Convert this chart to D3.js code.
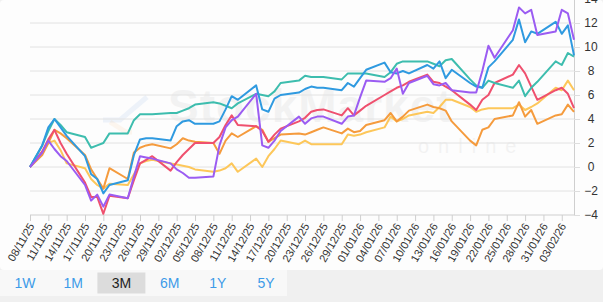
<!DOCTYPE html>
<html>
<head>
<meta charset="utf-8">
<script src="https://cdn.jsdelivr.net/npm/d3@7"></script>
<style>
  html, body { margin: 0; padding: 0; background: #f0f0f0; }
  svg { display: block; font-family: "Liberation Sans", Arial, sans-serif; }
</style>
</head>
<body>
<svg id="chart" width="603" height="302"></svg>
<script>
// trading days (dd/mm/yy)
const dates = [
  "08/11/25","10/11/25","11/11/25","12/11/25","13/11/25","14/11/25",
  "17/11/25","18/11/25","19/11/25","20/11/25","21/11/25",
  "24/11/25","25/11/25","26/11/25","27/11/25","28/11/25",
  "01/12/25","02/12/25","03/12/25","04/12/25","05/12/25",
  "08/12/25","09/12/25","10/12/25","11/12/25","12/12/25",
  "15/12/25","16/12/25","17/12/25","18/12/25","19/12/25",
  "22/12/25","23/12/25","24/12/25","25/12/25","26/12/25",
  "29/12/25","30/12/25","31/12/25","01/01/26","02/01/26",
  "05/01/26","06/01/26","07/01/26","08/01/26","09/01/26",
  "12/01/26","13/01/26","14/01/26","15/01/26","16/01/26",
  "19/01/26","20/01/26","21/01/26","22/01/26","23/01/26",
  "26/01/26","27/01/26","28/01/26","29/01/26","30/01/26",
  "02/02/26","03/02/26","04/02/26","05/02/26"
]

// % change series
const yellow = [0, 1.2, 2.0, 2.2, 1.4, 0.3,
  -0.1, -1.0, -1.5, -1.8, -1.4,
  -1.5, -0.6, 0.3, 0.5, 0.6,
  0.3, 0.2, 0.1, 0, -0.2,
  -0.4, -0.3, -0.1, 0.3, -0.4,
  0.7, 0, 0.9, 1.5, 2.2,
  1.9, 2.2, 1.9, 1.9, 1.9,
  1.9, 2.7, 2.6, 2.7, 2.9,
  3.3, 4.2, 3.8, 4.0, 4.3,
  4.6, 4.5, 5.0, 5.6, 5.6,
  5.0, 4.6, 4.8, 4.9, 4.9,
  4.9, 5.2, 4.75, 5.0, 5.3,
  6.6, 6.4, 7.2, 6.4]
const orange = [0, 1.0, 2.0, 3.1, 2.8, 2.4,
  1.0, -0.2, -1.0, -1.8, -0.1,
  -1.0, 1.2, 1.6, 1.8, 1.9,
  1.55, 1.9, 2.4, 2.2, 2.1,
  2.0, 1.1, 2.2, 2.8, 2.5,
  3.4, 3.1, 2.1, 2.4, 2.7,
  2.8, 2.7, 2.9, 3.1, 3.3,
  2.8, 3.2, 2.9, 3.0, 3.5,
  3.9, 4.5, 3.8, 4.2, 4.7,
  5.2, 5.0, 4.9, 4.7, 3.8,
  2.2, 1.8, 3.1, 3.3, 4.0,
  4.3, 5.4, 4.2, 4.75, 3.6,
  4.3, 4.4, 5.2, 4.6]
const pink = [0, 1.3, 2.3, 3.1, 2.0, 1.1,
  -1.3, -2.5, -2.5, -3.9, -2.4,
  -2.6, -1.1, 0.3, 0.6, 0.9,
  -0.3, 0.4, 1.0, 1.5, 2.0,
  2.0, 2.5, 3.5, 4.3, 3.5,
  3.4, 3.0, 2.1, 2.7, 3.2,
  3.8, 4.1, 4.6, 4.75, 4.8,
  4.3, 4.9, 4.3, 4.7, 5.1,
  6.0, 6.3, 6.6, 6.8, 7.1,
  7.7, 7.1, 7.0, 6.7, 6.4,
  5.2, 4.75, 5.6, 6.0, 7.0,
  7.7, 8.5, 7.8, 6.7, 5.6,
  6.4, 6.6, 6.1, 4.9]
const teal = [0, 1.8, 3.0, 4.0, 3.5, 2.9,
  2.5, 1.6, 1.8, 2.0, 2.8,
  2.8, 3.9, 4.4, 4.4, 4.4,
  4.5, 4.5, 4.7, 4.9, 5.2,
  5.4, 5.3, 5.1, 4.9, 5.3,
  6.1, 6.0, 5.9, 6.3, 7.0,
  7.2, 7.6, 7.5, 7.5, 7.5,
  7.3, 7.8, 7.8, 7.8, 7.8,
  7.5, 7.9, 8.6, 8.8, 8.8,
  8.8, 8.6, 8.4, 8.9, 9.0,
  7.3, 6.8, 6.6, 7.2, 7.0,
  6.6, 7.2, 5.9, 6.6, 7.1,
  8.8, 8.5, 9.5, 9.2]
const blue = [0, 1.8, 3.3, 4.0, 3.3, 2.6,
  0.9, -0.6, -1.0, -2.2, -1.5,
  -1.1, 1.0, 2.3, 2.4, 2.4,
  2.2, 3.4, 3.8, 3.9, 3.6,
  3.6, 3.8, 4.8, 5.9, 5.6,
  6.8, 4.8, 4.6, 5.7, 6.0,
  6.2, 6.5, 6.7, 6.6, 6.6,
  6.4, 7.0, 6.7, 7.4, 8.1,
  8.7, 7.9, 7.8, 8.0, 7.8,
  8.5, 8.2, 8.8, 7.4, 8.1,
  7.0, 6.7, 6.6, 8.3, 8.8,
  10.6, 12.3, 10.4, 11.3, 11.1,
  12.1, 11.1, 11.8, 9.3]
const purple = [0, 1.2, 2.2, 1.5, 0.9, 0.5,
  -1.5, -2.8, -2.3, -3.3, -2.3,
  -2.6, -0.8, 0.9, 0.8, 0.7,
  0.3, -0.2, -0.5, -0.9, -0.9,
  -0.8, 1.8, 3.3, 3.9, 4.2,
  6.1, 1.8, 1.6, 2.2, 3.0,
  4.2, 3.6, 4.05, 4.2, 4.2,
  3.6, 4.2, 4.3, 5.8, 7.2,
  7.1, 7.4, 8.2, 6.1, 7.0,
  7.6, 6.9, 6.8, 7.0, 6.4,
  6.2, 6.2, 8.0, 10.1, 9.1,
  11.4, 13.3, 12.8, 13.1, 11.0,
  11.3, 13.1, 12.8, 10.6]

const seriesList = [
  {values: yellow, color: "#fdc75a"},
  {values: orange, color: "#f59b3d"},
  {values: pink,   color: "#ef506e"},
  {values: teal,   color: "#3dbdae"},
  {values: blue,   color: "#2f9ae0"},
  {values: purple, color: "#9b5cf2"}
]

const xTicks = ["08/11/25","11/11/25","14/11/25","17/11/25","20/11/25","23/11/25",
  "26/11/25","29/11/25","02/12/25","05/12/25","08/12/25","11/12/25","14/12/25",
  "17/12/25","20/12/25","23/12/25","26/12/25","29/12/25","01/01/26","04/01/26",
  "07/01/26","10/01/26","13/01/26","16/01/26","19/01/26","22/01/26","25/01/26",
  "28/01/26","31/01/26","03/02/26"]
const yTicks = [-4, -2, 0, 2, 4, 6, 8, 10, 12, 14]
const ranges = ["1W", "1M", "3M", "6M", "1Y", "5Y"]
const activeRange = "3M"

const svg = d3.select("#chart")
const parse = d3.timeParse("%d/%m/%y")
const fmt = d3.timeFormat("%d/%m/%y")
const days = dates.map(parse)

// panels
svg.append("rect").attr("width", 603).attr("height", 270).attr("rx", 4).attr("fill", "#fdfdfd")
svg.append("rect").attr("x", 0).attr("y", 270).attr("width", 287).attr("height", 26).attr("fill", "#f8f8f8")

const x = d3.scaleTime()
  .domain([days[0], days[days.length - 1]])
  .range([30, 574])
const y = d3.scaleLinear()
  .domain([-4, 14])
  .range([215, -1])

// watermark
const wm = svg.append("g").attr("opacity", 0.04).attr("fill", "#000")
wm.append("text").attr("x", 168).attr("y", 122).style("font-size", "46px")
  .style("font-weight", "bold").style("letter-spacing", "1px").text("StockMarket")
wm.append("text").attr("x", 418).attr("y", 153).style("font-size", "20px")
  .style("letter-spacing", "9px").text("online")
svg.append("path").attr("d", "M103,120 L120,120 L147,97").attr("fill", "none")
  .attr("stroke", "#2f6fd0").attr("stroke-width", 5).attr("opacity", 0.08)
svg.append("path").attr("d", "M110,122 L126,132 L132,132").attr("fill", "none")
  .attr("stroke", "#f59b3d").attr("stroke-width", 5).attr("opacity", 0.08)

// grid + right axis
svg.append("g")
  .attr("transform", "translate(574,0)")
  .call(d3.axisRight(y).tickValues(yTicks).tickSize(6).tickPadding(11))
  .call(g => g.select(".domain").attr("stroke", "#cfcfcf"))
  .call(g => g.selectAll(".tick line").attr("stroke", "#dedede"))
  .call(g => g.selectAll(".tick text").attr("fill", "#333").style("font-size", "12px")
    .attr("text-anchor", "middle").attr("x", 17))

svg.append("g")
  .selectAll("line")
  .data(yTicks)
  .join("line")
  .attr("x1", 30).attr("x2", 574)
  .attr("y1", d => y(d)).attr("y2", d => y(d))
  .attr("stroke", d => d === -4 ? "#cfcfcf" : "#e2e2e2")

// x axis
svg.append("g")
  .attr("transform", "translate(0,215)")
  .call(d3.axisBottom(x).tickValues(xTicks.map(parse)).tickFormat(fmt).tickSize(6))
  .call(g => g.select(".domain").remove())
  .call(g => g.selectAll(".tick line").attr("stroke", "#cfcfcf"))
  .call(g => g.selectAll(".tick text")
    .attr("fill", "#333").style("font-size", "11px")
    .attr("text-anchor", "end")
    .attr("y", 0).attr("dy", "0.35em")
    .attr("transform", "translate(1,9) rotate(-60)"))

// lines
const line = d3.line()
  .x((d, i) => x(days[i]))
  .y(d => y(d))

svg.append("g")
  .selectAll("path")
  .data(seriesList)
  .join("path")
  .attr("d", d => line(d.values))
  .attr("fill", "none")
  .attr("stroke", d => d.color)
  .attr("stroke-width", 2)
  .attr("stroke-linejoin", "round")

// range buttons
const btn = svg.append("g").selectAll("g").data(ranges).join("g")
  .attr("transform", (d, i) => `translate(${25 + i * 48.2},283)`)
btn.filter(d => d === activeRange).append("rect")
  .attr("x", -24).attr("y", -10.5).attr("width", 48).attr("height", 21)
  .attr("fill", "#dcdcdc")
btn.append("text")
  .attr("text-anchor", "middle").attr("dy", "0.36em")
  .style("font-size", "14px")
  .attr("fill", d => d === activeRange ? "#222" : "#3d9be8")
  .text(d => d)
</script>
</body>
</html>
